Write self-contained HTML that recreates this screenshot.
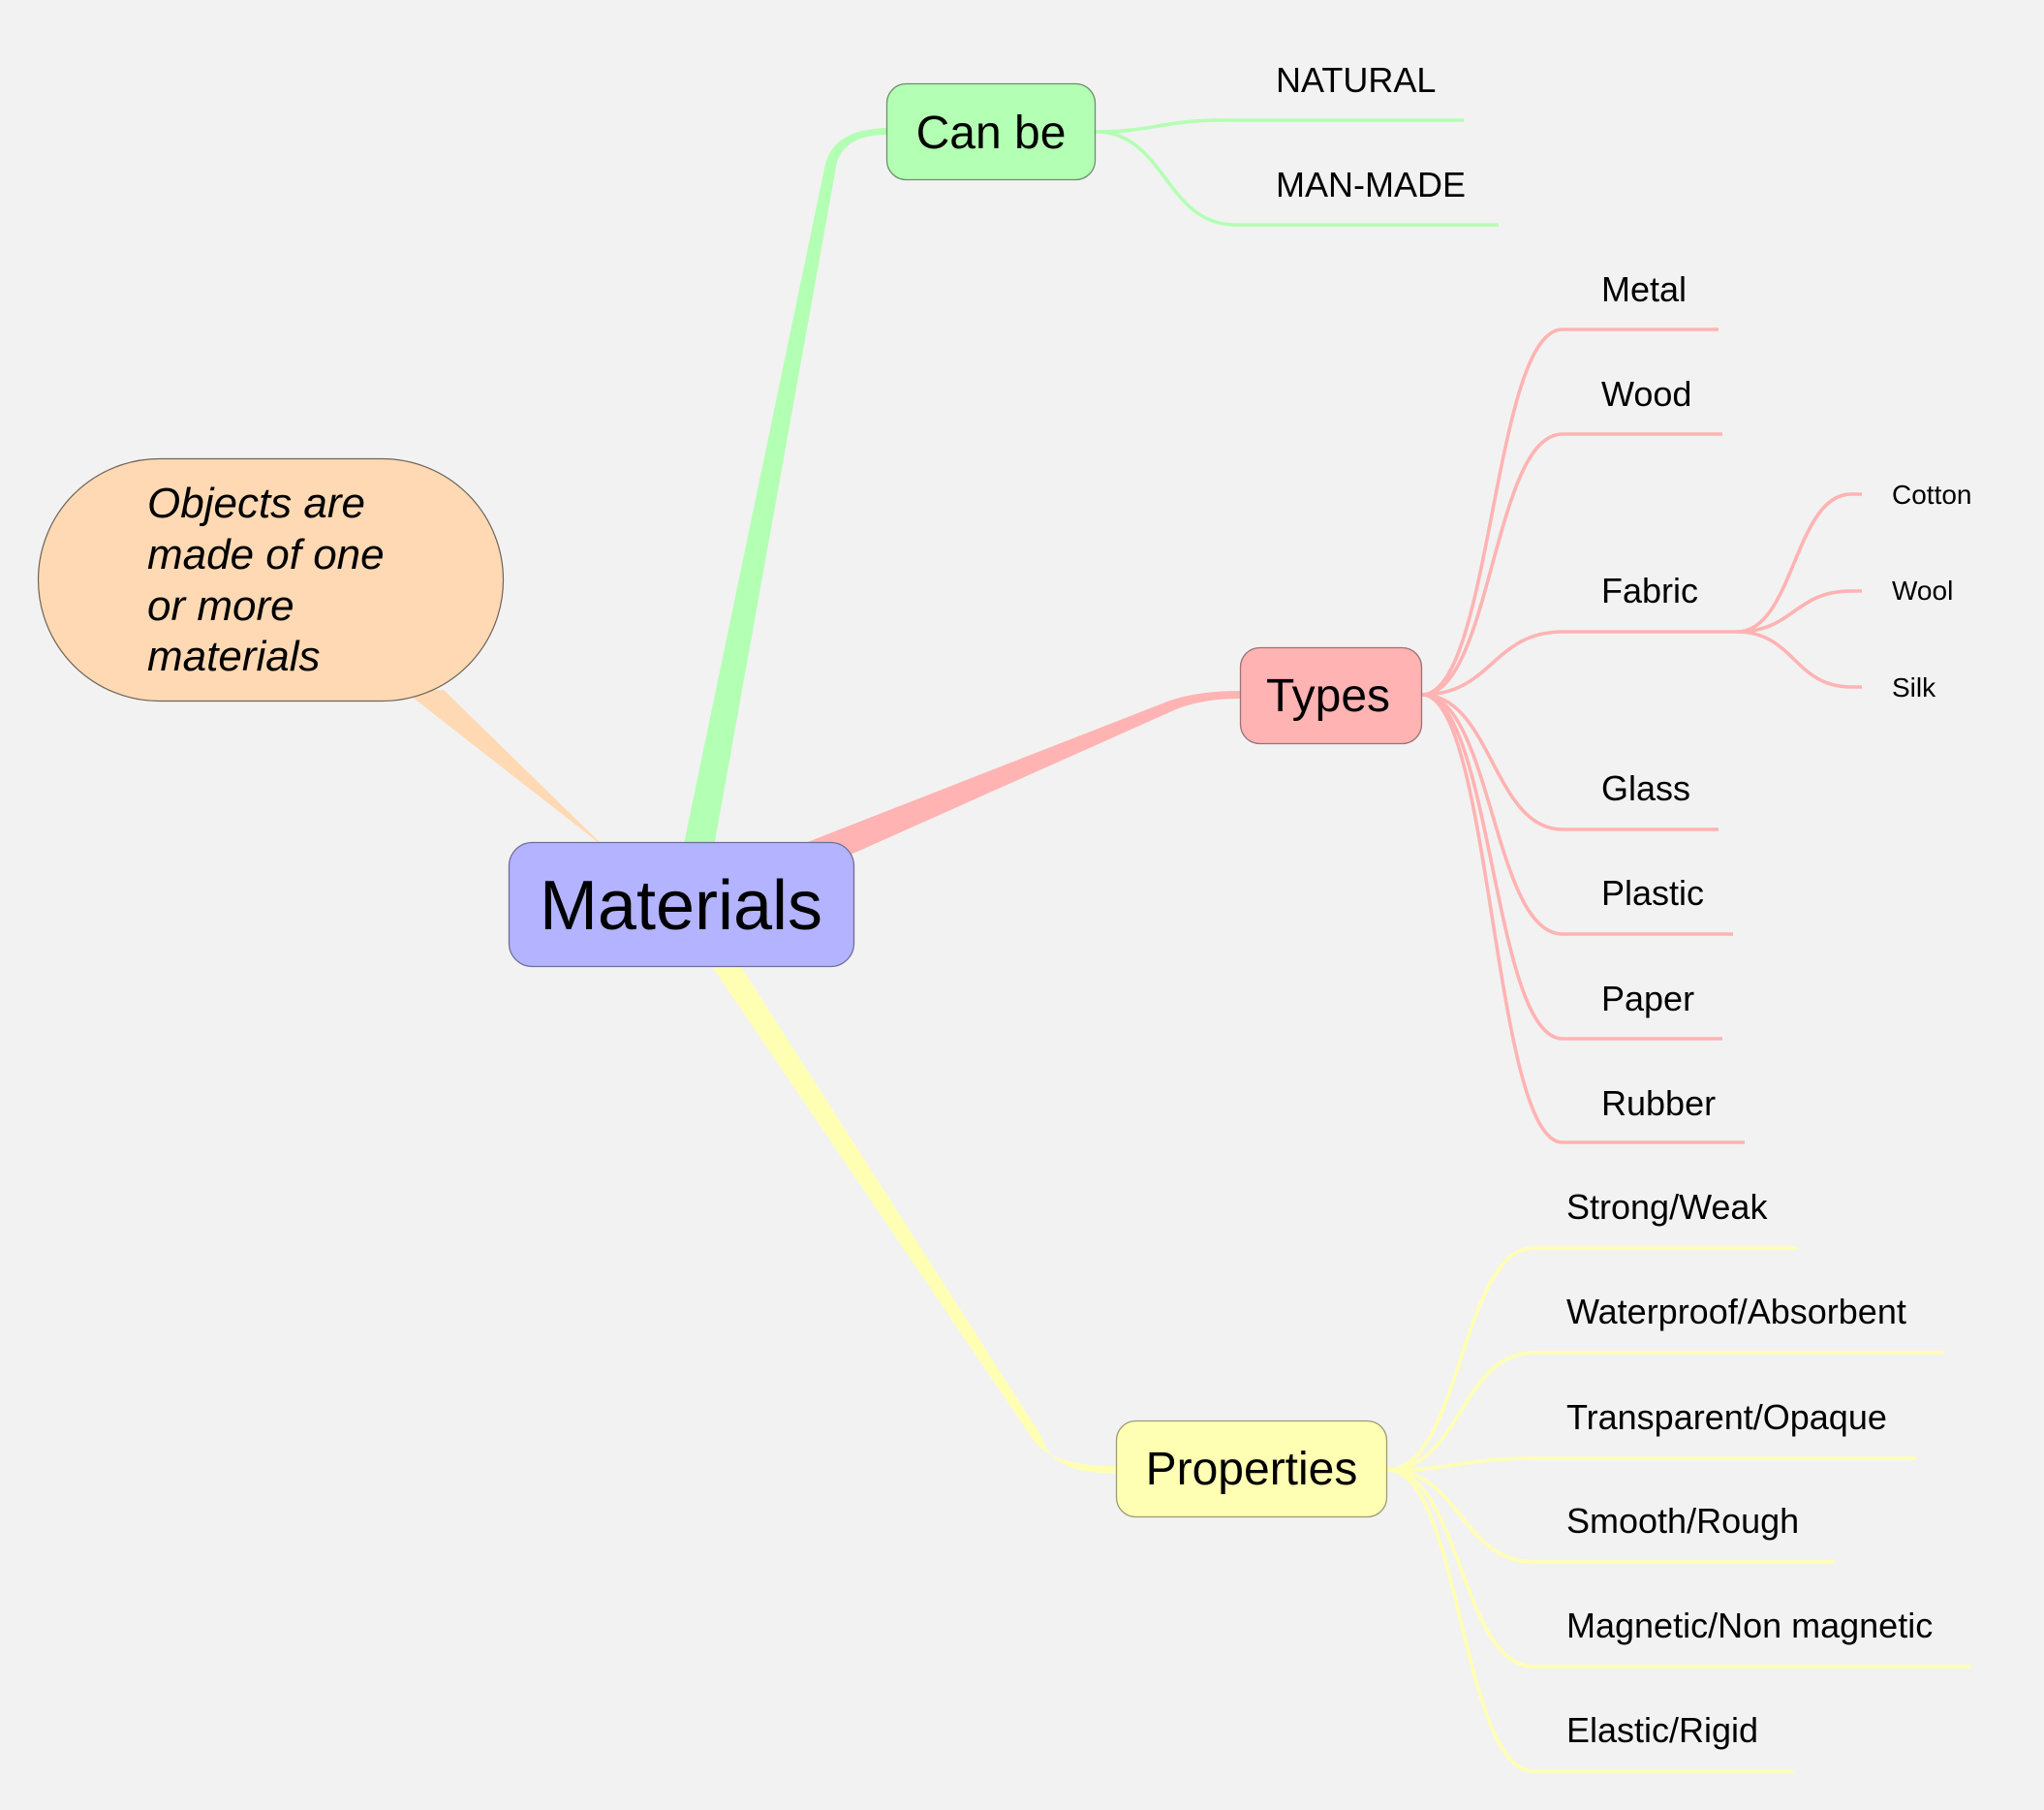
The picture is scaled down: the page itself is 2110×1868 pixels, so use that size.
<!DOCTYPE html>
<html>
<head>
<meta charset="utf-8">
<style>
  html, body { margin:0; padding:0; background:#f2f2f2; }
  body { width:2110px; height:1868px; overflow:hidden; }
  svg { display:block; }
  text { font-family: "Liberation Sans", Arial, sans-serif; fill:#000; }
</style>
</head>
<body>
<svg width="2110" height="1868" viewBox="0 0 2110 1868" xmlns="http://www.w3.org/2000/svg">
  <rect x="0" y="0" width="2110" height="1868" fill="#f2f2f2"/>

  <!-- Callout tail -->
  <polygon points="416,712 458,712 626,876" fill="#ffd9b3"/>

  <!-- Main branches (tapered) -->
  <path d="M 703 885 L 851 174 Q 858 133 916 132 L 916 139 Q 866 139 862 178 L 735 885 Z" fill="#b3ffb3"/>
  <path d="M 808 879 L 1205 724 Q 1235 713 1281 713 L 1281 721 Q 1240 721 1212 733 L 860 890 Z" fill="#ffb3b3"/>
  <path d="M 730 990 L 1068 1488 Q 1090 1514 1153 1513 L 1153 1520 Q 1086 1522 1076 1484 L 760 990 Z" fill="#ffffb3"/>

  <!-- Can be children -->
  <g fill="none" stroke="#b3ffb3" stroke-width="3.6">
    <path d="M 1131 136 C 1190 136, 1200 124, 1262 124 L 1511 124"/>
    <path d="M 1131 136 C 1203 136, 1203 232, 1275 232 L 1547 232"/>
  </g>

  <!-- Types children -->
  <g fill="none" stroke="#ffb3b3" stroke-width="3.6">
    <path d="M 1468 717 C 1540 717, 1541 340, 1613 340 L 1774 340"/>
    <path d="M 1468 717 C 1540 717, 1541 448, 1613 448 L 1778 448"/>
    <path d="M 1468 717 C 1540 717, 1541 652, 1613 652 L 1793 652"/>
    <path d="M 1468 717 C 1540 717, 1541 856, 1613 856 L 1774 856"/>
    <path d="M 1468 717 C 1540 717, 1541 964, 1613 964 L 1789 964"/>
    <path d="M 1468 717 C 1540 717, 1541 1072, 1613 1072 L 1778 1072"/>
    <path d="M 1468 717 C 1540 717, 1541 1179, 1613 1179 L 1801 1179"/>
    <path d="M 1793 652 C 1852 652, 1852 510, 1911 510 L 1922 510"/>
    <path d="M 1793 652 C 1852 652, 1852 610, 1911 610 L 1922 610"/>
    <path d="M 1793 652 C 1852 652, 1852 709, 1911 709 L 1922 709"/>
  </g>

  <!-- Properties children -->
  <g fill="none" stroke="#ffffb3" stroke-width="3.6">
    <path d="M 1432 1517 C 1508 1517, 1508 1288, 1583 1288 L 1855 1288"/>
    <path d="M 1432 1517 C 1508 1517, 1508 1396, 1583 1396 L 2007 1396"/>
    <path d="M 1432 1517 C 1508 1517, 1508 1505, 1583 1505 L 1978 1505"/>
    <path d="M 1432 1517 C 1508 1517, 1508 1612, 1583 1612 L 1894 1612"/>
    <path d="M 1432 1517 C 1508 1517, 1508 1720, 1583 1720 L 2035 1720"/>
    <path d="M 1432 1517 C 1508 1517, 1508 1828, 1583 1828 L 1851 1828"/>
  </g>

  <!-- Callout bubble -->
  <rect x="39.5" y="473.5" width="480" height="250" rx="125" ry="125" fill="#ffd9b3" stroke="#6e6458" stroke-width="1.2"/>
  <text font-style="italic" font-size="44">
    <tspan x="152" y="534">Objects are</tspan>
    <tspan x="152" y="587">made of one</tspan>
    <tspan x="152" y="640">or more</tspan>
    <tspan x="152" y="692">materials</tspan>
  </text>

  <!-- Nodes -->
  <rect x="525.5" y="869.5" width="356" height="128" rx="24" ry="24" fill="#b3b3ff" stroke="#6f6f99" stroke-width="1.3"/>
  <text x="703" y="959" font-size="72" text-anchor="middle">Materials</text>

  <rect x="915.5" y="86.5" width="215" height="99" rx="20" ry="20" fill="#b3ffb3" stroke="#6c8f6c" stroke-width="1.3"/>
  <text x="1023" y="153" font-size="48" text-anchor="middle">Can be</text>

  <rect x="1280.5" y="668.5" width="187" height="99" rx="20" ry="20" fill="#ffb3b3" stroke="#9a7272" stroke-width="1.3"/>
  <text x="1371" y="734" font-size="48" text-anchor="middle">Types</text>

  <rect x="1152.5" y="1466.5" width="279" height="99" rx="20" ry="20" fill="#ffffb3" stroke="#9c9c74" stroke-width="1.3"/>
  <text x="1292" y="1532" font-size="48" text-anchor="middle">Properties</text>

  <!-- Labels -->
  <g font-size="36">
    <text x="1317" y="95">NATURAL</text>
    <text x="1317" y="203">MAN-MADE</text>

    <text x="1653" y="311">Metal</text>
    <text x="1653" y="419">Wood</text>
    <text x="1653" y="622">Fabric</text>
    <text x="1653" y="826">Glass</text>
    <text x="1653" y="934">Plastic</text>
    <text x="1653" y="1043">Paper</text>
    <text x="1653" y="1151">Rubber</text>

    <text x="1617" y="1258">Strong/Weak</text>
    <text x="1617" y="1366">Waterproof/Absorbent</text>
    <text x="1617" y="1475">Transparent/Opaque</text>
    <text x="1617" y="1582">Smooth/Rough</text>
    <text x="1617" y="1690">Magnetic/Non magnetic</text>
    <text x="1617" y="1798">Elastic/Rigid</text>
  </g>
  <g font-size="28">
    <text x="1953" y="520">Cotton</text>
    <text x="1953" y="619">Wool</text>
    <text x="1953" y="719">Silk</text>
  </g>
</svg>
</body>
</html>
